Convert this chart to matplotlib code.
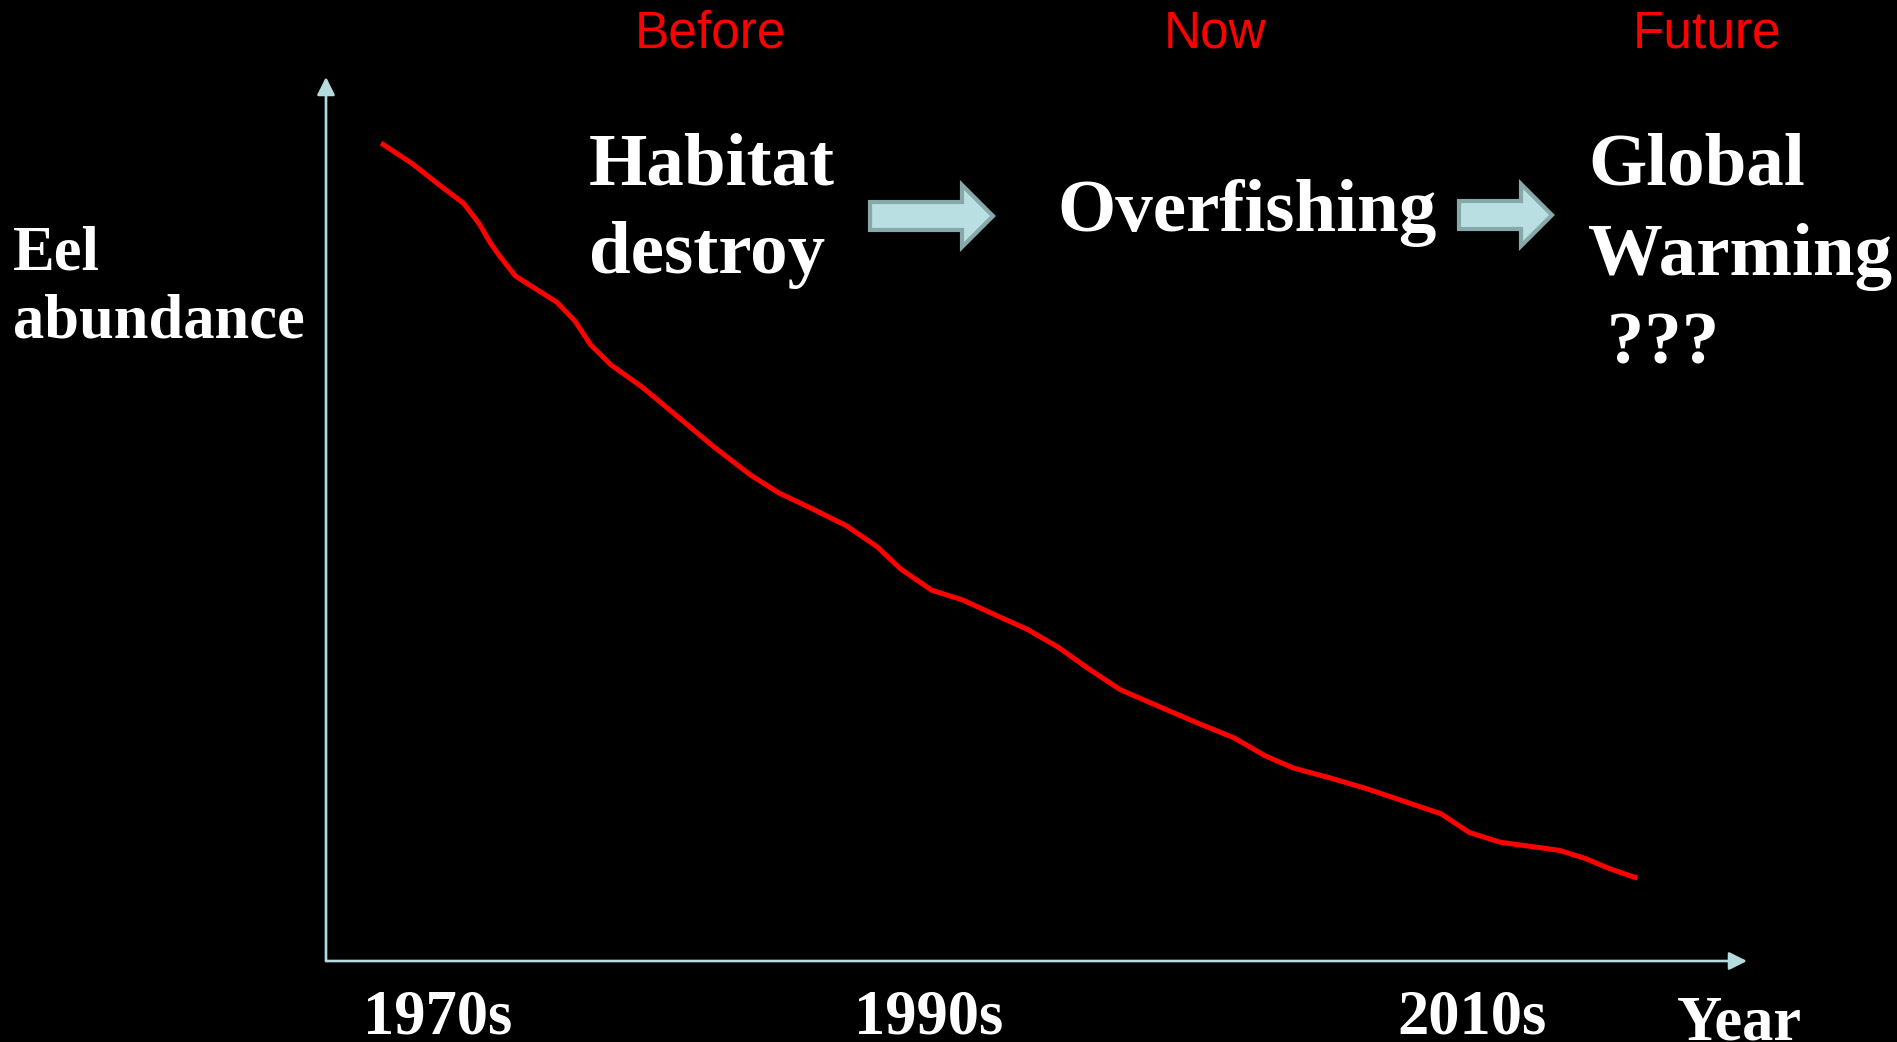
import matplotlib
matplotlib.use("Agg")
import matplotlib.pyplot as plt
from matplotlib.patches import Polygon

W, H = 1897, 1042

# eel abundance trend (relative index, start = 100)
years = [1967.8, 1969.0, 1970.0, 1971.0, 1971.6, 1972.0, 1972.4, 1973.0,
         1973.9, 1974.6, 1975.3, 1975.9, 1976.7, 1977.9, 1979.3, 1980.7,
         1982.1, 1983.2, 1984.4, 1985.8, 1987.0, 1987.9, 1989.1, 1990.3,
         1991.4, 1992.8, 1994.0, 1995.2, 1996.4, 1998.0, 1999.4, 2000.8,
         2002.0, 2003.1, 2004.5, 2005.9, 2007.3, 2008.8, 2009.9, 2011.1,
         2012.5, 2013.4, 2014.4, 2015.3, 2016.4]
abundance = [100.0, 97.5, 95.0, 92.6, 90.1, 87.9, 86.1, 83.7,
             81.9, 80.5, 78.2, 75.3, 72.8, 70.1, 66.4, 62.7,
             59.3, 57.1, 55.3, 53.1, 50.5, 47.8, 45.2, 44.0,
             42.4, 40.4, 38.2, 35.5, 33.0, 30.8, 28.9, 27.1,
             24.9, 23.4, 22.2, 20.9, 19.4, 17.8, 15.5, 14.3,
             13.7, 13.3, 12.3, 11.1, 9.9]

decade_pos = [1970, 1989, 2010]
decade_labels = ["1970s", "1990s", "2010s"]
eras = ["Before", "Now", "Future"]

AXIS_COL = "#b4dbde"
ARROW_FILL = "#b9dfe2"
ARROW_EDGE = "#87a8a9"
SERIF = "Liberation Serif"
SANS = "Liberation Sans"


def fx(px):
    return px / W


def fy(py):
    return 1 - py / H


def block_arrow(fig, x0, x1, yc, body_half=14, head_half=31, head_len=31):
    xs = x1 - head_len
    pts = [(x0, yc - body_half), (xs, yc - body_half), (xs, yc - head_half),
           (x1, yc), (xs, yc + head_half), (xs, yc + body_half),
           (x0, yc + body_half)]
    poly = Polygon([(fx(x), fy(y)) for x, y in pts], closed=True,
                   transform=fig.transFigure, facecolor=ARROW_FILL,
                   edgecolor=ARROW_EDGE, linewidth=3, joinstyle="miter")
    fig.patches.append(poly)


fig = plt.figure(figsize=(W / 100, H / 100), dpi=100, facecolor="black")
ax = fig.add_axes([fx(326), fy(961), fx(1747) - fx(326), (961 - 77) / H])
ax.set_facecolor("black")
ax.set_xlim(1965.67, 2020.64)
ax.set_ylim(-0.25, 108.1)
for s in ax.spines.values():
    s.set_visible(False)
ax.set_xticks([])
ax.set_yticks([])

# axes drawn as arrows
arrow_kw = dict(arrowstyle="-|>,head_length=0.4,head_width=0.2", color=AXIS_COL,
                lw=1.9, mutation_scale=27, shrinkA=0, shrinkB=0)
ax.annotate("", xy=(1, 0), xytext=(0, 0), xycoords="axes fraction",
            arrowprops=arrow_kw)
ax.annotate("", xy=(0, 1), xytext=(0, 0), xycoords="axes fraction",
            arrowprops=arrow_kw)

ax.plot(years, abundance, color="#ff0000", lw=3.6, solid_capstyle="butt")

for pos, lab in zip(decade_pos, decade_labels):
    ax.text(pos, -0.0815, lab, transform=ax.get_xaxis_transform(),
            ha="center", va="baseline", color="white", fontsize=45,
            fontweight="bold", family=SERIF)

big = dict(color="white", fontsize=54, fontweight="bold", family=SERIF,
           ha="left", va="baseline")
mid = dict(color="white", fontsize=45, fontweight="bold", family=SERIF,
           ha="left", va="baseline")

fig.text(fx(13), fy(270), "Eel", **mid)
fig.text(fx(13), fy(338), "abundance", **mid)
fig.text(fx(1677), fy(1040), "Year", **mid)

for x, era in zip([635, 1164, 1633], eras):
    fig.text(fx(x), fy(47), era, color="#ff0000", fontsize=37, family=SANS,
             ha="left", va="baseline")

fig.text(fx(589), fy(185), "Habitat", **big)
fig.text(fx(589), fy(273), "destroy", **big)
fig.text(fx(1057), fy(231), "Overfishing", **big)
fig.text(fx(1588), fy(185), "Global", **big)
fig.text(fx(1588), fy(275), "Warming", **big)
fig.text(fx(1588), fy(363), " ???", **big)

block_arrow(fig, 870, 993, 216)
block_arrow(fig, 1459, 1552, 215)

fig.savefig("out.png", dpi=100, facecolor="black")
